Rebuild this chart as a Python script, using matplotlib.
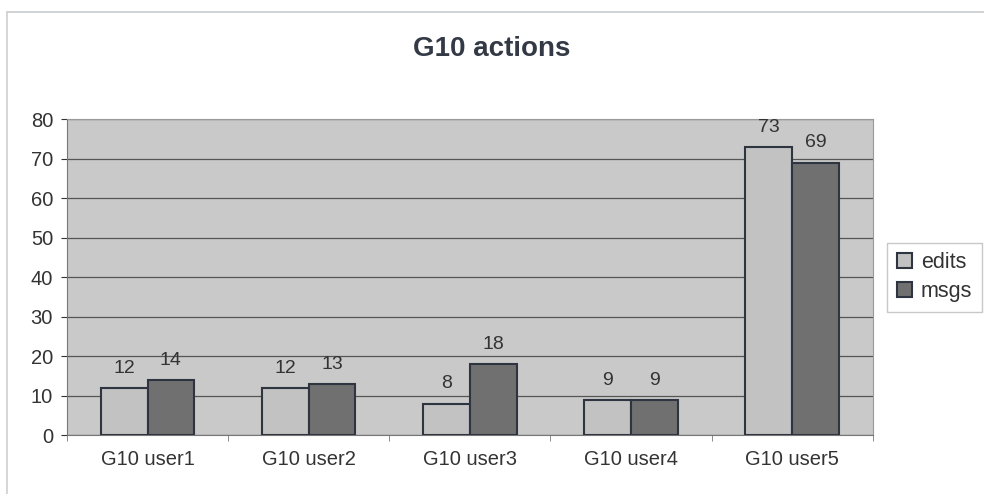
import numpy as np
import matplotlib.pyplot as plt
from matplotlib.lines import Line2D

plt.rcParams['font.family'] = ['Liberation Sans', 'DejaVu Sans']

users = ["G10 user1", "G10 user2", "G10 user3", "G10 user4", "G10 user5"]
edits = [12, 12, 8, 9, 73]
msgs = [14, 13, 18, 9, 69]

fig = plt.figure(figsize=(9.84, 4.94), dpi=100)
ax = fig.add_axes([0.068, 0.119, 0.819, 0.64])
ax.set_facecolor("#c9c9c9")

# faint outer frame (top and left edges of the chart area)
fig.add_artist(Line2D([0.007, 1.0], [0.975, 0.975], color="#c8ccd0", linewidth=1.2))
fig.add_artist(Line2D([0.007, 0.007], [0.0, 0.975], color="#d0d0d0", linewidth=1.2))

x = np.arange(len(users))
w = 0.29
b1 = ax.bar(x - w/2, edits, w, color="#c2c2c2", edgecolor="#2e3440", linewidth=1.5, label="edits", zorder=3)
b2 = ax.bar(x + w/2, msgs, w, color="#707070", edgecolor="#2e3440", linewidth=1.5, label="msgs", zorder=3)

for bars in (b1, b2):
    for r in bars:
        ax.annotate(str(int(r.get_height())), (r.get_x() + r.get_width()/2, r.get_height()),
                    xytext=(0, 8), textcoords="offset points",
                    ha="center", va="bottom", fontsize=14, color="#333333", zorder=4)

ax.set_xlim(-0.5, 4.5)
ax.set_ylim(0, 80)
ax.set_yticks(range(0, 81, 10))
ax.set_xticks(x)
ax.set_xticklabels(users)
ax.set_xticks(np.arange(-0.5, 5, 1), minor=True)
ax.yaxis.grid(True, color="#555555", linewidth=0.9, zorder=1)
ax.tick_params(axis="both", labelsize=14.5, colors="#333333", length=4)
ax.tick_params(axis="y", pad=6)
ax.tick_params(axis="x", which="major", length=0, pad=11)
ax.tick_params(axis="x", which="minor", length=4, color="#777777")
for s in ["top", "right"]:
    ax.spines[s].set_color("#999999")
ax.spines["left"].set_color("#777777")
ax.spines["bottom"].set_color("#777777")

fig.text(0.5, 0.9, "G10 actions", ha="center", va="center", fontsize=20, fontweight="bold", color="#333a45")

ax.legend(loc="center left", bbox_to_anchor=(1.018, 0.5), fontsize=15.5, frameon=True,
          fancybox=False, edgecolor="#bbbbbb", handlelength=0.7, handleheight=0.7,
          handletextpad=0.4, labelcolor="#333333", borderpad=0.45, labelspacing=0.35,
          borderaxespad=0)

fig.savefig("out.png", dpi=100)
